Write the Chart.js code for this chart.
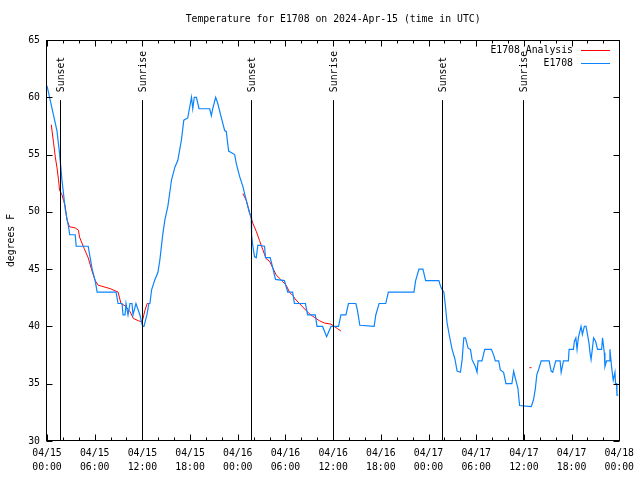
<!DOCTYPE html>
<html>
<head>
<meta charset="utf-8">
<script src="https://cdn.jsdelivr.net/npm/chart.js@4.4.1/dist/chart.umd.min.js"></script>
<style>
  html, body { margin: 0; padding: 0; background: #fff; }
  canvas { display: block; }
</style>
</head>
<body>
<canvas id="myChart" width="640" height="480"></canvas>
<script>
// hours since 04/15 00:00 UTC, temperatures in degrees F
const blueHours = [0.00,1.25,1.58,1.88,2.30,2.71,2.86,3.55,3.67,5.18,5.43,5.68,6.06,6.31,8.69,8.94,9.44,9.57,9.82,9.94,10.19,10.44,10.69,10.82,11.19,11.44,11.69,12.03,12.20,12.57,12.82,12.95,13.16,13.58,13.95,14.20,14.58,14.83,15.21,15.67,16.09,16.46,16.92,17.21,17.71,18.05,18.18,18.34,18.53,18.80,19.13,20.47,20.68,20.85,21.22,21.47,21.94,22.35,22.56,22.85,23.61,23.82,24.23,24.65,25.07,25.49,25.70,25.74,25.90,26.11,26.33,26.53,27.37,27.49,28.08,28.41,28.75,29.87,30.29,30.91,31.13,32.51,32.79,33.76,33.97,34.67,35.18,35.73,36.68,36.98,37.61,37.93,38.86,39.06,39.36,41.16,41.37,41.78,42.62,42.95,46.17,46.38,46.80,47.30,47.64,49.30,49.52,49.72,49.93,50.14,50.34,50.65,50.97,51.31,51.60,52.02,52.23,52.44,52.65,52.98,53.28,53.48,53.90,54.11,54.23,54.73,55.07,55.91,56.20,56.41,56.83,57.04,57.45,57.74,58.49,58.71,58.92,59.25,59.46,60.93,61.21,61.43,61.63,61.84,62.18,63.18,63.43,63.63,64.01,64.56,64.69,64.98,65.60,65.69,66.23,66.35,66.54,66.69,66.85,67.19,67.36,67.61,67.82,67.98,68.20,68.32,68.45,68.61,68.77,69.02,69.27,69.78,69.90,70.12,70.20,70.40,70.74,70.83,71.03,71.24,71.46,71.53,71.66,71.71,71.87];
const blueTemps = [61.0,57.1,55.1,52.8,50.2,48.7,48,48,47,47,46,45,44,43,43,42,42,41,41,42,41,42,42,41,42,41.5,41,40,40,41,42,42,43.2,44.1,44.7,45.8,48.1,49.3,50.5,52.8,53.9,54.5,56.3,58,58.2,59.5,60,59,60,60,59,59,58.4,59,60,59.5,58.2,57.1,57,55.3,55,54.2,53.1,52.2,51.0,49.9,49.5,48,47,46.1,46,47.1,47,46,46,45.1,44.1,44,43,43,42,42,41,41,40,40,39.1,40,40,41,41,42,42,41.4,40.1,40,41,42,42,43,43,44,45,45,44,44,43.5,43.2,43,41.7,40.3,39.1,38,37.2,36.1,36,37.1,39,39,38.1,38,37.1,36.5,36,37,37,38,38,37.5,37,37,36.2,36,35,35,36.1,35.5,34.6,33.1,33,33.6,34.5,35.8,36.2,37,37,36.1,36,37,37,36,37,37,38,38,38.7,39,38,39,40,39.3,40,40,39.4,38.5,37.7,37.1,38,39,38.7,38,38,39,37.7,36.5,37,37,38,36.5,35.3,36,35,35,34,34];

const redHours = [0.54,0.83,1.04,1.25,1.45,1.58,1.88,2.08,2.29,2.51,2.83,3.55,3.96,4.09,4.68,5.18,5.68,6.06,6.43,7.94,8.94,9.31,9.82,10.19,10.44,10.86,11.48,11.98,12.32,12.61,12.95,18.0,24.65,25.07,25.49,25.90,26.33,26.74,27.15,27.58,27.99,28.41,28.83,29.25,29.66,30.09,30.50,30.91,31.34,31.75,32.17,32.59,33.01,33.42,33.85,34.26,34.89,35.73,36.15,36.56,36.98,48.0,60.71,60.96];
const redTemps = [57.6,56,54.8,53.9,52.8,51.9,51.5,51,50.5,49.3,48.7,48.6,48.4,47.8,46.8,46,44.8,44,43.6,43.3,43,42,41.8,41.5,41.3,40.7,40.5,40.4,41.4,42,42,null,51.6,51,49.9,49,48.3,47.5,46.7,45.9,45.7,45.1,44.5,44.2,43.9,43.6,43,42.7,42.3,42,41.7,41.4,41.1,40.9,40.7,40.5,40.3,40.2,40,39.8,39.6,null,36.4,36.4];

const sunHours = [1.58, 12.0, 25.68, 36.03, 49.68, 59.95];
const sunLabels = ['Sunset', 'Sunrise', 'Sunset', 'Sunrise', 'Sunset', 'Sunrise'];

const xTickLabels = [
    ['04/15', '00:00'], ['04/15', '06:00'], ['04/15', '12:00'], ['04/15', '18:00'],
    ['04/16', '00:00'], ['04/16', '06:00'], ['04/16', '12:00'], ['04/16', '18:00'],
    ['04/17', '00:00'], ['04/17', '06:00'], ['04/17', '12:00'], ['04/17', '18:00'],
    ['04/18', '00:00']
];
const yTickValues = [30, 35, 40, 45, 50, 55, 60, 65];

const titleText = 'Temperature for E1708 on 2024-Apr-15 (time in UTC)';
const yAxisTitle = 'degrees F';
const FONT_FAMILY = '"DejaVu Sans Mono", "Liberation Mono", monospace';
const FONT = '9.8px ' + FONT_FAMILY;

const toPoints = (xs, ys) => xs.map((h, i) => ({ x: h, y: ys[i] }));

// draws the gnuplot-like frame, inward tics, sun lines, title and key
const gnuplotDecor = {
    id: 'gnuplotDecor',
    afterDatasetsDraw(chart) {
        const { ctx, chartArea: a, scales: { x, y } } = chart;
        const graphY = f => a.bottom - f * (a.bottom - a.top);
        ctx.save();
        ctx.strokeStyle = '#000';
        ctx.fillStyle = '#000';
        ctx.lineWidth = 1;
        ctx.font = FONT;

        sunHours.forEach((h, i) => {
            const px = Math.round(x.getPixelForValue(h)) + 0.5;
            ctx.beginPath();
            ctx.moveTo(px, graphY(0.85));
            ctx.lineTo(px, a.bottom);
            ctx.stroke();
            ctx.save();
            ctx.translate(px + 1, graphY(0.87));
            ctx.rotate(-Math.PI / 2);
            ctx.textAlign = 'left';
            ctx.textBaseline = 'middle';
            ctx.fillText(sunLabels[i], 0, 0);
            ctx.restore();
        });

        const L = Math.round(a.left) - 0.5;
        const R = Math.round(a.right) + 0.5;
        const T = Math.round(a.top) + 0.5;
        const B = Math.round(a.bottom) - 0.5;
        ctx.strokeRect(L, T, R - L, B - T);

        ctx.beginPath();
        x.ticks.forEach(t => {
            const px = Math.round(x.getPixelForValue(t.value)) + 0.5;
            const len = t.value % 6 === 0 ? 6 : 3;
            ctx.moveTo(px, B); ctx.lineTo(px, B - len);
            ctx.moveTo(px, T); ctx.lineTo(px, T + len);
        });
        y.ticks.forEach(t => {
            const py = Math.round(y.getPixelForValue(t.value)) + 0.5;
            ctx.moveTo(L, py); ctx.lineTo(L + 6, py);
            ctx.moveTo(R, py); ctx.lineTo(R - 6, py);
        });
        ctx.stroke();

        // title and axis title
        ctx.textAlign = 'center';
        ctx.textBaseline = 'middle';
        ctx.fillText(titleText, (a.left + a.right) / 2, 19);
        ctx.save();
        ctx.translate(11, (a.top + a.bottom) / 2);
        ctx.rotate(-Math.PI / 2);
        ctx.fillText(yAxisTitle, 0, 0);
        ctx.restore();

        // key
        chart.data.datasets.forEach((ds, i) => {
            const ky = 50 + i * 13.3;
            ctx.textAlign = 'right';
            ctx.fillStyle = '#000';
            ctx.fillText(ds.label, 573, ky);
            ctx.strokeStyle = ds.borderColor;
            ctx.beginPath();
            ctx.moveTo(581, Math.round(ky) + 0.5);
            ctx.lineTo(610, Math.round(ky) + 0.5);
            ctx.stroke();
        });
        ctx.restore();
    }
};

const ctx = document.getElementById('myChart').getContext('2d');
const chartInstance = new Chart(ctx, {
    type: 'line',
    data: {
        datasets: [{
            label: 'E1708 Analysis',
            data: toPoints(redHours, redTemps),
            borderColor: '#ff0000',
            borderWidth: 1,
            pointRadius: 0,
            tension: 0,
            spanGaps: false,
            order: 1
        }, {
            label: 'E1708',
            data: toPoints(blueHours, blueTemps),
            borderColor: '#0a84ff',
            borderWidth: 1.2,
            pointRadius: 0,
            tension: 0,
            order: 0
        }]
    },
    options: {
        responsive: false,
        devicePixelRatio: 1,
        animation: false,
        layout: { padding: { left: 0, right: 19, top: 40, bottom: 0 } },
        plugins: {
            legend: { display: false },
            title: { display: false },
            tooltip: { enabled: false }
        },
        scales: {
            x: {
                type: 'linear',
                min: 0,
                max: 72,
                grid: { display: false, drawTicks: false },
                border: { display: false },
                afterBuildTicks: s => {
                    const ticks = [];
                    for (let h = 0; h <= 72; h += 2) ticks.push({ value: h });
                    s.ticks = ticks;
                },
                afterFit: s => { s.height = 39; },
                ticks: {
                    autoSkip: false,
                    maxRotation: 0,
                    minRotation: 0,
                    padding: 6,
                    color: '#000',
                    font: { family: FONT_FAMILY, size: 9.8, lineHeight: 1.36 },
                    callback: v => (v % 6 === 0 ? xTickLabels[v / 6] : '')
                }
            },
            y: {
                type: 'linear',
                min: 30,
                max: 65,
                grid: { display: false, drawTicks: false },
                border: { display: false },
                afterBuildTicks: s => { s.ticks = yTickValues.map(v => ({ value: v })); },
                afterFit: s => { s.width = 47; },
                ticks: {
                    padding: 7,
                    color: '#000',
                    font: { family: FONT_FAMILY, size: 9.8 },
                    callback: v => String(v)
                }
            }
        }
    },
    plugins: [gnuplotDecor]
});
</script>
</body>
</html>
